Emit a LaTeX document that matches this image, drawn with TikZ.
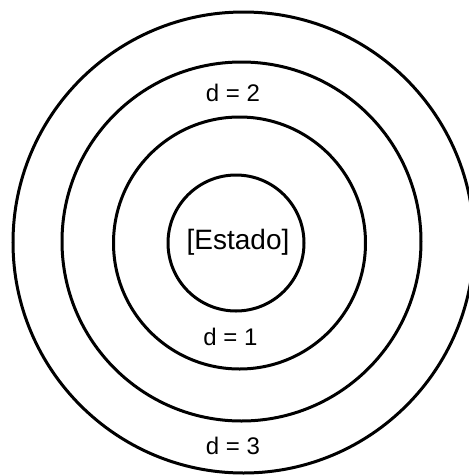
\documentclass[tikz,border=0pt]{standalone}
\usepackage{fontspec}
\setmainfont{Liberation Sans}
\usepackage{tikz}

\begin{document}
\begin{tikzpicture}[
    x=1pt, y=-1pt,
    ring/.style={draw=black, line width=3pt, circle, inner sep=0pt},
    dlabel/.style={font=\fontsize{24}{28}\selectfont, inner sep=0pt},
    core/.style={font=\fontsize{28}{32}\selectfont, inner sep=0pt}
]
\useasboundingbox (0,0) rectangle (469,475);
\clip (0,0) rectangle (469,475);

\node[ring, minimum size=461pt] (ring3) at (243.5,242.5) {};
\node[ring, minimum size=359pt] (ring2) at (241.5,241.5) {};
\node[ring, minimum size=252pt] (ring1) at (239.5,243) {};
\node[ring, minimum size=136pt] (ring0) at (236,243) {};

\node[core] (estado) at (238,242) {[Estado]};
\node[dlabel] (lbl2) at (233,92.5) {d = 2};
\node[dlabel] (lbl1) at (230.5,336.5) {d = 1};
\node[dlabel] (lbl3) at (233,446) {d = 3};
\end{tikzpicture}
\end{document}
